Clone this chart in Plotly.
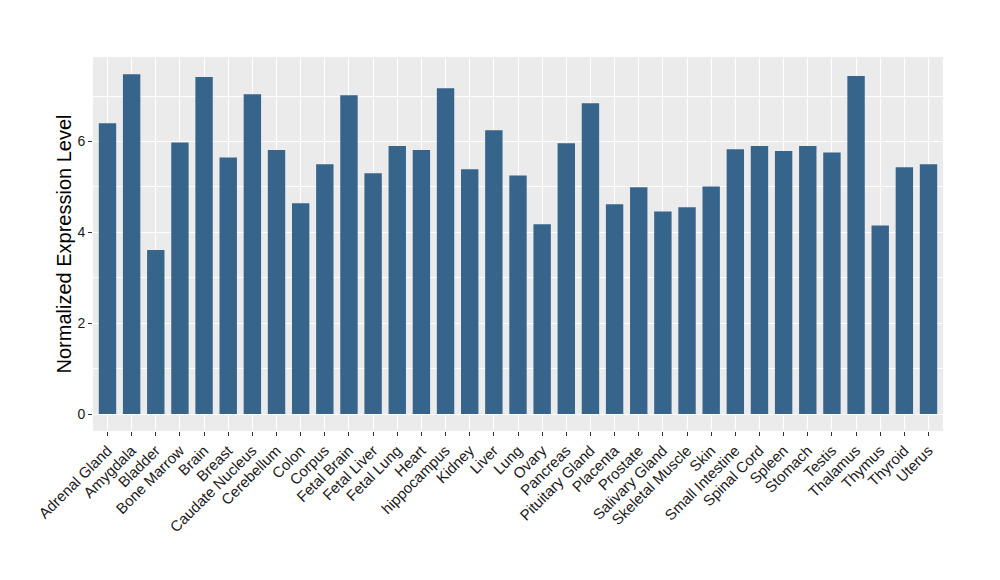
import plotly.graph_objects as go

categories = ["Adrenal Gland", "Amygdala", "Bladder", "Bone Marrow", "Brain", "Breast",
              "Caudate Nucleus", "Cerebellum", "Colon", "Corpus", "Fetal Brain", "Fetal Liver",
              "Fetal Lung", "Heart", "hippocampus", "Kidney", "Liver", "Lung", "Ovary",
              "Pancreas", "Pituitary Gland", "Placenta", "Prostate", "Salivary Gland",
              "Skeletal Muscle", "Skin", "Small Intestine", "Spinal Cord", "Spleen", "Stomach",
              "Testis", "Thalamus", "Thymus", "Thyroid", "Uterus"]
values = [6.40, 7.48, 3.61, 5.98, 7.42, 5.65, 7.04, 5.81, 4.64, 5.50, 7.02, 5.30,
          5.90, 5.81, 7.17, 5.39, 6.25, 5.25, 4.18, 5.96, 6.84, 4.62, 4.99, 4.46,
          4.55, 5.01, 5.83, 5.90, 5.79, 5.90, 5.76, 7.44, 4.15, 5.43, 5.50]
y_ticks = [0, 2, 4, 6]

fig = go.Figure()
fig.add_trace(go.Bar(x=categories, y=values, marker_color="#36648B",
                     marker_line_width=0, width=0.72))

fig.update_layout(
    width=1000, height=580,
    margin=dict(l=85, r=65, t=49, b=157, autoexpand=False),
    paper_bgcolor="white", plot_bgcolor="#EBEBEB",
    font=dict(family="Liberation Sans, Arial, sans-serif", color="#1a1a1a"),
    showlegend=False,
)
fig.update_xaxes(
    type="category", range=[-0.6, len(categories) - 0.4], automargin=False,
    showgrid=True, gridcolor="white", gridwidth=1.1,
    tickangle=-45, tickfont=dict(size=15, color="#1a1a1a"),
    ticks="outside", ticklen=4, tickcolor="#333333", tickwidth=1,
    showline=False, zeroline=False,
)
fig.update_yaxes(
    range=[-0.374, 7.86], tickvals=y_ticks, automargin=False,
    showgrid=True, gridcolor="white", gridwidth=1.1,
    minor=dict(dtick=1, tick0=0, showgrid=True, gridcolor="white", gridwidth=0.5),
    ticks="outside", ticklen=4, tickcolor="#333333", tickwidth=1,
    tickfont=dict(size=14, color="#1a1a1a"),
    title=dict(text="Normalized Expression Level", font=dict(size=20, color="black"), standoff=0),
    zeroline=False, showline=False,
)

fig.write_html("out.html")
